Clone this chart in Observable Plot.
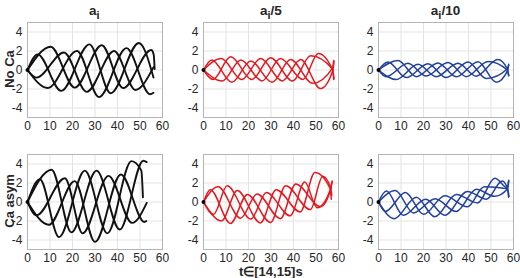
<!DOCTYPE html>
<html>
<head>
<meta charset="utf-8">
<script src="https://cdn.jsdelivr.net/npm/d3@7"></script>
<script src="https://cdn.jsdelivr.net/npm/@observablehq/plot@0.6"></script>
<style>
  html, body { margin: 0; padding: 0; background: #fff; }
  #fig { position: relative; width: 520px; height: 278px; background: #fff;
         font-family: 'Liberation Sans', Arial, sans-serif; color: #262626; overflow: hidden; }
  .ttl { position: absolute; text-align: center; font-weight: bold; font-size: 13.5px; line-height: 15px; white-space: nowrap; }
  .ttl sub { font-size: 11px; line-height: 0; vertical-align: -0.35em; }
  .rowlab { position: absolute; font-weight: bold; font-size: 13px; line-height: 13px; white-space: nowrap;
            transform: translate(-50%, -50%) rotate(-90deg); }
  .xlab { position: absolute; font-weight: bold; font-size: 13px; line-height: 13px; white-space: nowrap; transform: translate(-50%, -50%); }
</style>
</head>
<body>
<div id="fig"></div>
<script>
// ---- axes / labels ----
const xTicks = [0, 10, 20, 30, 40, 50, 60];
const yTicks = [-4, -2, 0, 2, 4];
const columnTitles = [["a", "i", ""], ["a", "i", "/5"], ["a", "i", "/10"]];
const rowLabels = ["No Ca", "Ca asym"];
const xAxisTitle = "t\u2208[14,15]s";
const colors = ["#111111", "#e3191f", "#22409b"];
const origin = [{x: 0, y: 0}];

// ---- snapshots: extrema (x, y) of each filament snapshot ----
// Row 1: No Ca
const noCa_a = [
  [[0,0],[4.5,1.65],[15,-2.2],[27.5,2.7],[37,-2.45],[49.5,2.85],[56,-0.8]],
  [[0,0],[10.3,2.45],[21,-1.85],[33,2.6],[42.5,-1.9],[55,2.1],[56.1,1.6],[56.5,0.1]],
  [[0,0],[4,-0.8],[16.2,1.85],[26.3,-2.3],[38.5,2.0],[48,-2.1],[56,0.3]],
  [[0,0],[9,-1.9],[22,2.0],[31.8,-2.85],[44,2.3],[54.5,-2.55],[56,-2.4]]
];
const noCa_a5 = [
  [[0,0],[3.7,1.05],[12.6,-1.3],[21,0.95],[30.5,-1.3],[38.7,1.1],[48.5,-1.4],[57.3,0.2],[57.9,1.0]],
  [[0,0],[7.9,1.2],[17,-1.0],[25.4,1.2],[35,-1.15],[43.2,1.1],[52,-1.95],[57.4,-0.1],[58,0.9]],
  [[0,0],[4.2,-1.0],[12.1,1.4],[21.5,-1.0],[29.8,1.3],[39.6,-1.15],[47.6,1.5],[57.3,0.1],[57.9,-1.0]],
  [[0,0],[8.4,-1.15],[16.6,1.05],[26,-1.15],[34.2,1.2],[44.2,-1.0],[51,1.75],[57.4,0],[58,-0.9]]
];
const noCa_a10 = [
  [[0,0],[4.2,0.85],[12.3,-0.8],[22,0.65],[30.1,-0.8],[39.8,0.85],[47.9,-0.9],[57.2,0.1],[57.8,0.5]],
  [[0,0],[8.65,1.0],[16.75,-0.7],[26.45,0.75],[34.55,-0.72],[44.25,0.88],[52.35,-1.3],[57.3,-0.1],[57.9,0.6]],
  [[0,0],[3.4,-0.7],[13.1,0.7],[21.2,-0.63],[30.9,0.78],[39,-0.7],[48.7,0.9],[57.2,0],[57.8,-0.6]],
  [[0,0],[7.85,-1.0],[17.55,0.6],[25.65,-0.7],[35.35,0.72],[43.45,-0.65],[53,1.1],[57.3,0.1],[57.9,-0.6]]
];
// Row 2: Ca asym
const caAsym_a = [
  [[0,0],[5.5,2.4],[14,-3.7],[25.5,3.3],[35.5,-3.3],[46.2,4.3],[50.6,3.3],[51.3,0.5]],
  [[0,0],[10.7,3.4],[19.5,-3.2],[30.7,3.3],[41,-2.9],[51.5,4.35],[53,4.2]],
  [[0,0],[4,-1.4],[16.6,2.5],[24.5,-3.3],[36,2.75],[46.5,-2.2],[53,-0.1]],
  [[0,0],[9.5,-2.4],[21,2.2],[30,-4.2],[41.5,2.9],[52,-2.1],[52.8,-2.0]]
];
const caAsym_a5 = [
  [[0,0],[3,1.3],[12,-2.25],[19.5,0.8],[29.8,-2.15],[36.5,1.7],[47.5,-0.8],[53,2.7],[56.5,1.5],[57,0.7]],
  [[0,0],[6.5,1.6],[16.5,-1.7],[23.8,0.85],[34.2,-1.75],[41,1.9],[52,-0.5],[56.5,1.3],[57,2.1]],
  [[0,0],[4.5,-1.3],[10.5,1.7],[21,-1.8],[28,1.0],[38.5,-1.45],[45,2.1],[50.5,-0.6],[56.5,1.4],[57.2,2.2]],
  [[0,0],[8,-2.0],[15,1.2],[25.3,-2.2],[32.3,1.3],[43,-1.05],[49.5,3.1],[56.3,1.4],[56.8,0.3]]
];
const caAsym_a10 = [
  [[0,0],[3.5,1.15],[11,-1.4],[21,0.3],[29.5,-1.4],[39.5,1.1],[48,0.3],[55,2.2],[57.5,1.3],[58,0.6]],
  [[0,0],[7.5,1.2],[15.5,-1.15],[25.2,0.35],[34.5,-1.0],[43.5,1.35],[51.5,0.6],[57.4,1.4],[57.9,2.3]],
  [[0,0],[3,-1.0],[12,1.0],[20,-1.3],[29.5,0.65],[39.5,-0.5],[47,1.6],[57.3,1.4],[57.8,0.5]],
  [[0,0],[7,-1.75],[16.8,0.5],[25,-1.55],[34.6,0.8],[44,-0.1],[51.7,2.5],[57.3,1.5],[57.8,2.2]]
];

const panels = [
  [noCa_a, noCa_a5, noCa_a10],
  [caAsym_a, caAsym_a5, caAsym_a10]
];

// ---- layout ----
const frameLeft = [26.7, 203.3, 378];
const frameTop = [21.5, 153.8];
const frameW = 135, frameH = 95;
const mL = 27, mR = 6, mT = 6, mB = 20;

function makePanel(curves, color, sw) {
  const rows = curves.flatMap((pts, i) => pts.map(([x, y]) => ({x, y, snap: i})));
  return Plot.plot({
    width: mL + frameW + mR,
    height: mT + frameH + mB,
    marginLeft: mL, marginRight: mR, marginTop: mT, marginBottom: mB,
    x: {domain: [0, 60]},
    y: {domain: [-5, 5]},
    style: {background: "transparent", color: "#262626", fontFamily: "'Liberation Sans', Arial, sans-serif", fontSize: "12px", overflow: "visible"},
    marks: [
      Plot.gridX(xTicks, {stroke: "#e3e3e3", strokeOpacity: 1}),
      Plot.gridY(yTicks, {stroke: "#e3e3e3", strokeOpacity: 1}),
      Plot.frame({stroke: "#b4b4b4"}),
      Plot.axisX(xTicks, {tickSize: 0, tickPadding: 4, label: null, tickFormat: d => String(d)}),
      Plot.axisY(yTicks, {tickSize: 0, tickPadding: 5, label: null, tickFormat: d => String(d)}),
      Plot.line(rows, {x: "x", y: "y", z: "snap", stroke: color, strokeWidth: sw, curve: "monotone-x"}),
      Plot.dot(origin, {x: "x", y: "y", r: 2, fill: "#000", stroke: "none"})
    ]
  });
}

const fig = document.getElementById("fig");
panels.forEach((row, r) => {
  row.forEach((curves, c) => {
    const svg = makePanel(curves, colors[c], c === 0 ? 1.9 : 1.5);
    svg.style.position = "absolute";
    svg.style.left = (frameLeft[c] - mL) + "px";
    svg.style.top = (frameTop[r] - mT) + "px";
    fig.appendChild(svg);
  });
});

columnTitles.forEach(([base, sub, rest], c) => {
  const d = document.createElement("div");
  d.className = "ttl";
  d.style.left = frameLeft[c] + "px";
  d.style.width = frameW + "px";
  d.style.top = "3px";
  d.innerHTML = base + "<sub>" + sub + "</sub>" + rest;
  fig.appendChild(d);
});

rowLabels.forEach((t, r) => {
  const d = document.createElement("div");
  d.className = "rowlab";
  d.style.left = "9px";
  d.style.top = (frameTop[r] + frameH / 2) + "px";
  d.textContent = t;
  fig.appendChild(d);
});

const xl = document.createElement("div");
xl.className = "xlab";
xl.style.left = (frameLeft[1] + frameW / 2) + "px";
xl.style.top = "271px";
xl.textContent = xAxisTitle;
fig.appendChild(xl);
</script>
</body>
</html>
